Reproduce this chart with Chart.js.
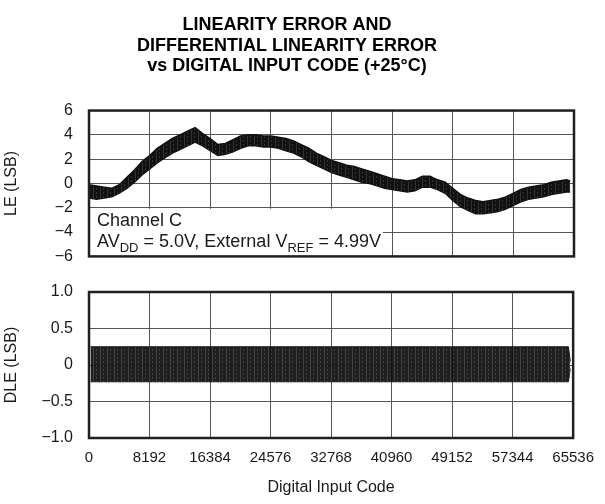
<!DOCTYPE html>
<html>
<head>
<meta charset="utf-8">
<script src="https://cdn.jsdelivr.net/npm/chart.js@4.4.1/dist/chart.umd.min.js"></script>
<style>
body { margin: 0; background: #fff; }
#wrap { position: relative; width: 605px; height: 504px; }
canvas { position: absolute; left: 0; }
#le-chart { top: 0; }
#dle-chart { top: 265px; }
</style>
</head>
<body>
<div id="wrap">
<canvas id="dle-chart" width="605" height="239"></canvas>
<canvas id="le-chart" width="605" height="282"></canvas>
</div>
<script>
// x axis
const codeTicks = [0, 8192, 16384, 24576, 32768, 40960, 49152, 57344, 65536];

const leCodes = [0, 1024, 2048, 3072, 4096, 5120, 6144, 7168, 8192, 9216, 10240, 11264, 12288, 13312, 14336, 15360,
    16384, 17408, 18432, 19456, 20480, 21504, 22528, 23552, 24576, 25600, 26624, 27648, 28672, 29696, 30720, 31744,
    32768, 33792, 34816, 35840, 36864, 37888, 38912, 39936, 40960, 41984, 43008, 44032, 45056, 46080, 47104, 48128,
    49152, 50176, 51200, 52224, 53248, 54272, 55296, 56320, 57344, 58368, 59392, 60416, 61440, 62464, 63488, 64512, 65024];
const leUpper = [-0.1, -0.2, -0.3, -0.4, -0.1, 0.5, 1.1, 1.8, 2.3, 2.9, 3.3, 3.7, 4.0, 4.3, 4.6, 4.1,
    3.7, 3.2, 3.3, 3.6, 3.9, 4.0, 4.0, 3.9, 3.9, 3.8, 3.7, 3.5, 3.2, 2.9, 2.5, 2.2,
    1.9, 1.7, 1.5, 1.4, 1.2, 1.0, 0.8, 0.6, 0.4, 0.3, 0.2, 0.3, 0.6, 0.6, 0.3, 0.1,
    -0.4, -0.9, -1.2, -1.4, -1.5, -1.4, -1.3, -1.1, -0.8, -0.5, -0.3, -0.2, -0.1, 0.1, 0.2, 0.3, 0.2];
const leLower = [-1.2, -1.3, -1.2, -1.1, -0.8, -0.4, 0.1, 0.7, 1.2, 1.7, 2.1, 2.5, 2.8, 3.1, 3.4, 3.1,
    2.7, 2.3, 2.4, 2.6, 2.9, 3.1, 3.1, 3.0, 3.0, 2.9, 2.7, 2.5, 2.2, 1.8, 1.5, 1.2,
    0.9, 0.7, 0.5, 0.3, 0.1, 0.0, -0.2, -0.4, -0.5, -0.6, -0.7, -0.6, -0.3, -0.3, -0.5, -0.8,
    -1.4, -1.9, -2.2, -2.5, -2.5, -2.4, -2.3, -2.1, -1.8, -1.5, -1.3, -1.2, -1.1, -0.9, -0.8, -0.7, -0.7];

// DLE trace, same idea
const dleCodes = [200, 64900, 65150];
const dleUpper = [0.25, 0.25, 0.05];
const dleLower = [-0.23, -0.23, -0.05];

const titleLines = ['LINEARITY ERROR AND', 'DIFFERENTIAL LINEARITY ERROR', 'vs DIGITAL INPUT CODE (+25°C)'];
const noteLine1 = [{ text: 'Channel C' }];
const noteLine2 = [{ text: 'AV' }, { text: 'DD', sub: true }, { text: ' = 5.0V, External V' }, { text: 'REF', sub: true }, { text: ' = 4.99V' }];

const FONT = '"Liberation Sans", Arial, Helvetica, sans-serif';
const GRID = '#5a5456';
const INK = '#111';

function toPoints(xs, ys) {
    return xs.map((x, i) => ({ x: x, y: ys[i] }));
}

function minusLabel(text) {
    return text.replace('-', '\u2212');
}

// dense trace look: dark with faint vertical streaks
function streakFill(base, streak) {
    const c = document.createElement('canvas');
    c.width = 7;
    c.height = 4;
    const g = c.getContext('2d');
    g.fillStyle = base;
    g.fillRect(0, 0, 7, 4);
    g.fillStyle = streak;
    g.fillRect(2, 0, 1, 4);
    g.fillRect(5, 0, 1, 2);
    return g.createPattern(c, 'repeat');
}

const framePlugin = {
    id: 'frame',
    afterDatasetsDraw(chart) {
        const { ctx, chartArea: a } = chart;
        ctx.save();
        ctx.strokeStyle = '#231f20';
        ctx.lineWidth = 2.5;
        ctx.strokeRect(a.left, a.top, a.right - a.left, a.bottom - a.top);
        ctx.restore();
    }
};

function drawRuns(ctx, runs, x, y) {
    runs.forEach((r) => {
        ctx.font = r.sub ? '13px ' + FONT : '18px ' + FONT;
        ctx.fillText(r.text, x, r.sub ? y + 5 : y);
        x += ctx.measureText(r.text).width;
    });
}

const notePlugin = {
    id: 'note',
    beforeDatasetsDraw(chart) {
        const { ctx, chartArea: a, scales } = chart;
        const top = scales.y.getPixelForValue(-2) + 1;
        const right = scales.x.getPixelForValue(39700);
        ctx.save();
        ctx.fillStyle = '#fff';
        ctx.fillRect(a.left + 1, top, right - a.left - 1, a.bottom - top);
        ctx.fillStyle = '#1a1a1a';
        ctx.textBaseline = 'alphabetic';
        drawRuns(ctx, noteLine1, a.left + 8, top + 17);
        drawRuns(ctx, noteLine2, a.left + 8, top + 38);
        ctx.restore();
    }
};

const xAxisBase = {
    type: 'linear',
    min: 0,
    max: 65536,
    afterBuildTicks: (scale) => { scale.ticks = codeTicks.map((v) => ({ value: v })); },
    grid: { color: GRID, lineWidth: 1, drawTicks: false },
    border: { display: false }
};

// top panel: LE
new Chart(document.getElementById('le-chart'), {
    type: 'scatter',
    data: {
        datasets: [
            { data: toPoints(leCodes, leUpper), showLine: true, borderColor: INK, borderWidth: 1.5, pointRadius: 0, fill: '+1', backgroundColor: streakFill('#111', '#333') },
            { data: toPoints(leCodes, leLower), showLine: true, borderColor: INK, borderWidth: 1.5, pointRadius: 0 }
        ]
    },
    options: {
        responsive: false,
        animation: false,
        layout: { padding: { left: 0, right: 31, top: 0, bottom: 10 } },
        plugins: {
            legend: { display: false },
            tooltip: { enabled: false },
            title: {
                display: true,
                text: titleLines,
                color: '#000',
                font: { family: FONT, size: 18, weight: 'bold', lineHeight: 1.14 },
                padding: { top: 15, bottom: 34 }
            }
        },
        scales: {
            x: Object.assign({}, xAxisBase, {
                ticks: { display: false },
                afterFit: (scale) => { scale.height = 0; }
            }),
            y: {
                min: -6,
                max: 6,
                ticks: { stepSize: 2, padding: 16, color: '#1a1a1a', font: { family: FONT, size: 16 }, callback: (v) => minusLabel(String(v)) },
                grid: { color: GRID, lineWidth: 1, drawTicks: false },
                border: { display: false },
                title: { display: true, text: 'LE (LSB)', color: '#1a1a1a', font: { family: FONT, size: 16 }, padding: { top: 2, bottom: 0 } },
                afterFit: (scale) => { scale.width = 89; }
            }
        }
    },
    plugins: [notePlugin, framePlugin]
});

// bottom panel: DLE
new Chart(document.getElementById('dle-chart'), {
    type: 'scatter',
    data: {
        datasets: [
            { data: toPoints(dleCodes, dleUpper), showLine: true, borderColor: '#1a1a1a', borderWidth: 1, pointRadius: 0, fill: '+1', backgroundColor: streakFill('rgba(12,12,12,0.92)', 'rgba(70,70,70,0.9)') },
            { data: toPoints(dleCodes, dleLower), showLine: true, borderColor: '#1a1a1a', borderWidth: 1, pointRadius: 0 }
        ]
    },
    options: {
        responsive: false,
        animation: false,
        layout: { padding: { left: 0, right: 31, top: 27, bottom: 0 } },
        plugins: { legend: { display: false }, tooltip: { enabled: false } },
        scales: {
            x: Object.assign({}, xAxisBase, {
                ticks: { padding: 11, color: '#1a1a1a', font: { family: FONT, size: 15 }, maxRotation: 0, autoSkip: false, callback: (v) => String(v) },
                title: { display: true, text: 'Digital Input Code', color: '#1a1a1a', font: { family: FONT, size: 16 }, padding: { top: 0, bottom: 7 } },
                afterFit: (scale) => { scale.height = 66; }
            }),
            y: {
                min: -1,
                max: 1,
                ticks: { stepSize: 0.5, padding: 16, color: '#1a1a1a', font: { family: FONT, size: 16 },
                    callback: (v) => (v === 0 ? '0' : minusLabel(v.toFixed(1))) },
                grid: { color: GRID, lineWidth: 1, drawTicks: false },
                border: { display: false },
                title: { display: true, text: 'DLE (LSB)', color: '#1a1a1a', font: { family: FONT, size: 16 }, padding: { top: 2, bottom: 0 } },
                afterFit: (scale) => { scale.width = 89; }
            }
        }
    },
    plugins: [framePlugin]
});
</script>
</body>
</html>
